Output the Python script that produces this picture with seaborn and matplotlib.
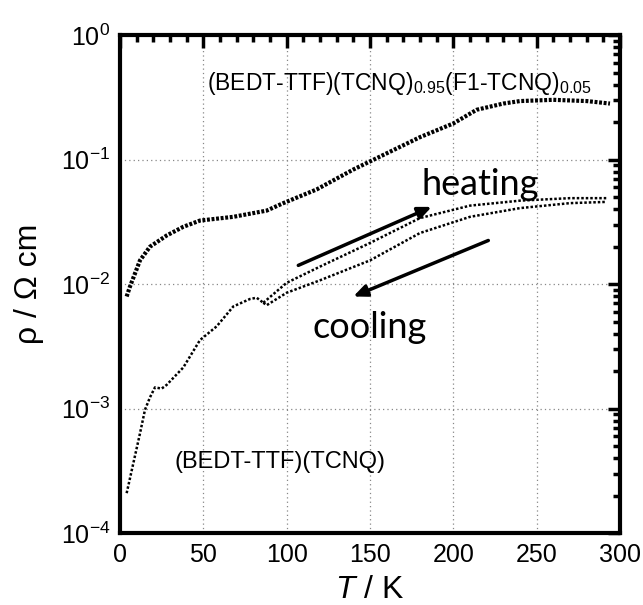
import numpy as np
import pandas as pd
import matplotlib
matplotlib.use("Agg")
import matplotlib.pyplot as plt
import matplotlib.ticker as mticker
import seaborn as sns

# Values (T in K, log10 of rho in Ohm cm)
doped_T = [4, 6, 8, 12, 18, 28, 38, 48, 68, 88, 98, 118, 140, 160, 180, 200, 214, 230, 240, 260, 280, 294]
doped_logrho = [-2.10, -2.02, -1.95, -1.81, -1.70, -1.61, -1.54, -1.49, -1.46, -1.41, -1.35, -1.24,
                -1.08, -0.95, -0.82, -0.71, -0.60, -0.55, -0.53, -0.52, -0.53, -0.55]

pure_T = [4, 8, 12, 15, 18, 21, 25, 28, 38, 48, 58, 68, 78, 82, 86]
pure_logrho = [-3.68, -3.44, -3.20, -3.01, -2.91, -2.83, -2.84, -2.81, -2.67, -2.45, -2.34, -2.18,
               -2.12, -2.11, -2.15]

heat_T = [86, 100, 120, 150, 180, 210, 240, 270, 292]
heat_logrho = [-2.15, -1.99, -1.86, -1.67, -1.47, -1.37, -1.33, -1.31, -1.31]
cool_T = [86, 88, 100, 120, 150, 180, 210, 240, 270, 292]
cool_logrho = [-2.15, -2.17, -2.07, -1.97, -1.81, -1.59, -1.46, -1.39, -1.35, -1.34]

# arrows (start, end)
heat_arrow = [(107, -1.85), (187, -1.38)]
cool_arrow = [(221, -1.65), (140, -2.10)]

sns.set_style("white")
plt.rcParams['font.family'] = ['Liberation Sans', 'DejaVu Sans']
plt.rcParams['mathtext.fontset'] = 'custom'
plt.rcParams['mathtext.rm'] = 'Liberation Sans'
plt.rcParams['mathtext.it'] = 'Liberation Sans:italic'
plt.rcParams['text.color'] = 'black'
plt.rcParams['axes.labelcolor'] = 'black'
plt.rcParams['xtick.color'] = 'black'
plt.rcParams['ytick.color'] = 'black'

fig = plt.figure(figsize=(6.43, 6.05), dpi=100)
ax = fig.add_axes([0.1866, 0.119, 0.7776, 0.823])


def to_df(T, lr):
    return pd.DataFrame({'T': T, 'rho': 10 ** np.array(lr)})


sns.lineplot(data=to_df(doped_T, doped_logrho), x='T', y='rho', ax=ax, color='black',
             lw=3, linestyle=(0, (0.7, 0.4)), estimator=None, sort=False)
for T, lr in [(pure_T, pure_logrho), (heat_T, heat_logrho), (cool_T, cool_logrho)]:
    sns.lineplot(data=to_df(T, lr), x='T', y='rho', ax=ax, color='black',
                 lw=1.8, linestyle=(0, (1, 0.8)), estimator=None, sort=False)

for (x0, y0), (x1, y1) in [heat_arrow, cool_arrow]:
    ax.annotate('', xy=(x1, 10 ** y1), xytext=(x0, 10 ** y0),
                arrowprops=dict(arrowstyle='-|>,head_length=0.8,head_width=0.35',
                                color='black', lw=2.5, shrinkA=0, shrinkB=0))

ax.set_yscale('log')
ax.set_xlim(0, 300)
ax.set_ylim(1e-4, 1)
ax.xaxis.set_major_locator(mticker.MultipleLocator(50))
ax.xaxis.set_minor_locator(mticker.MultipleLocator(10))
ax.yaxis.set_major_locator(mticker.LogLocator(base=10, numticks=10))
ax.yaxis.set_minor_locator(mticker.LogLocator(base=10, subs=np.arange(2, 10), numticks=10))
ax.yaxis.set_minor_formatter(mticker.NullFormatter())
ax.yaxis.set_major_formatter(mticker.FuncFormatter(lambda v, p: r'$10^{%d}$' % round(np.log10(v))))

ax.tick_params(which='both', direction='in', top=True, right=True, width=2.5)
ax.tick_params(which='major', length=9, labelsize=18, pad=7)
ax.tick_params(which='minor', length=5)
for s in ax.spines.values():
    s.set_linewidth(3)
    s.set_color('black')
ax.grid(True, which='major', color='#888888', linestyle=(0, (1, 2.5)), lw=0.9)

ax.set_xlabel(r'$T$ / K', fontsize=23, labelpad=6)
ax.set_ylabel('ρ / Ω cm', fontsize=23, labelpad=12)

ax.text(52, 10 ** -0.385, r'(BEDT-TTF)(TCNQ)$_{0.95}$(F1-TCNQ)$_{0.05}$', fontsize=16.5, va='center')
ax.text(33, 10 ** -3.43, '(BEDT-TTF)(TCNQ)', fontsize=17, va='center')
ax.text(216, 10 ** -1.2, 'heating', fontsize=26, ha='center', va='center', family='Lato')
ax.text(150, 10 ** -2.35, 'cooling', fontsize=26, ha='center', va='center', family='Lato')

fig.savefig('out.png', dpi=100)
